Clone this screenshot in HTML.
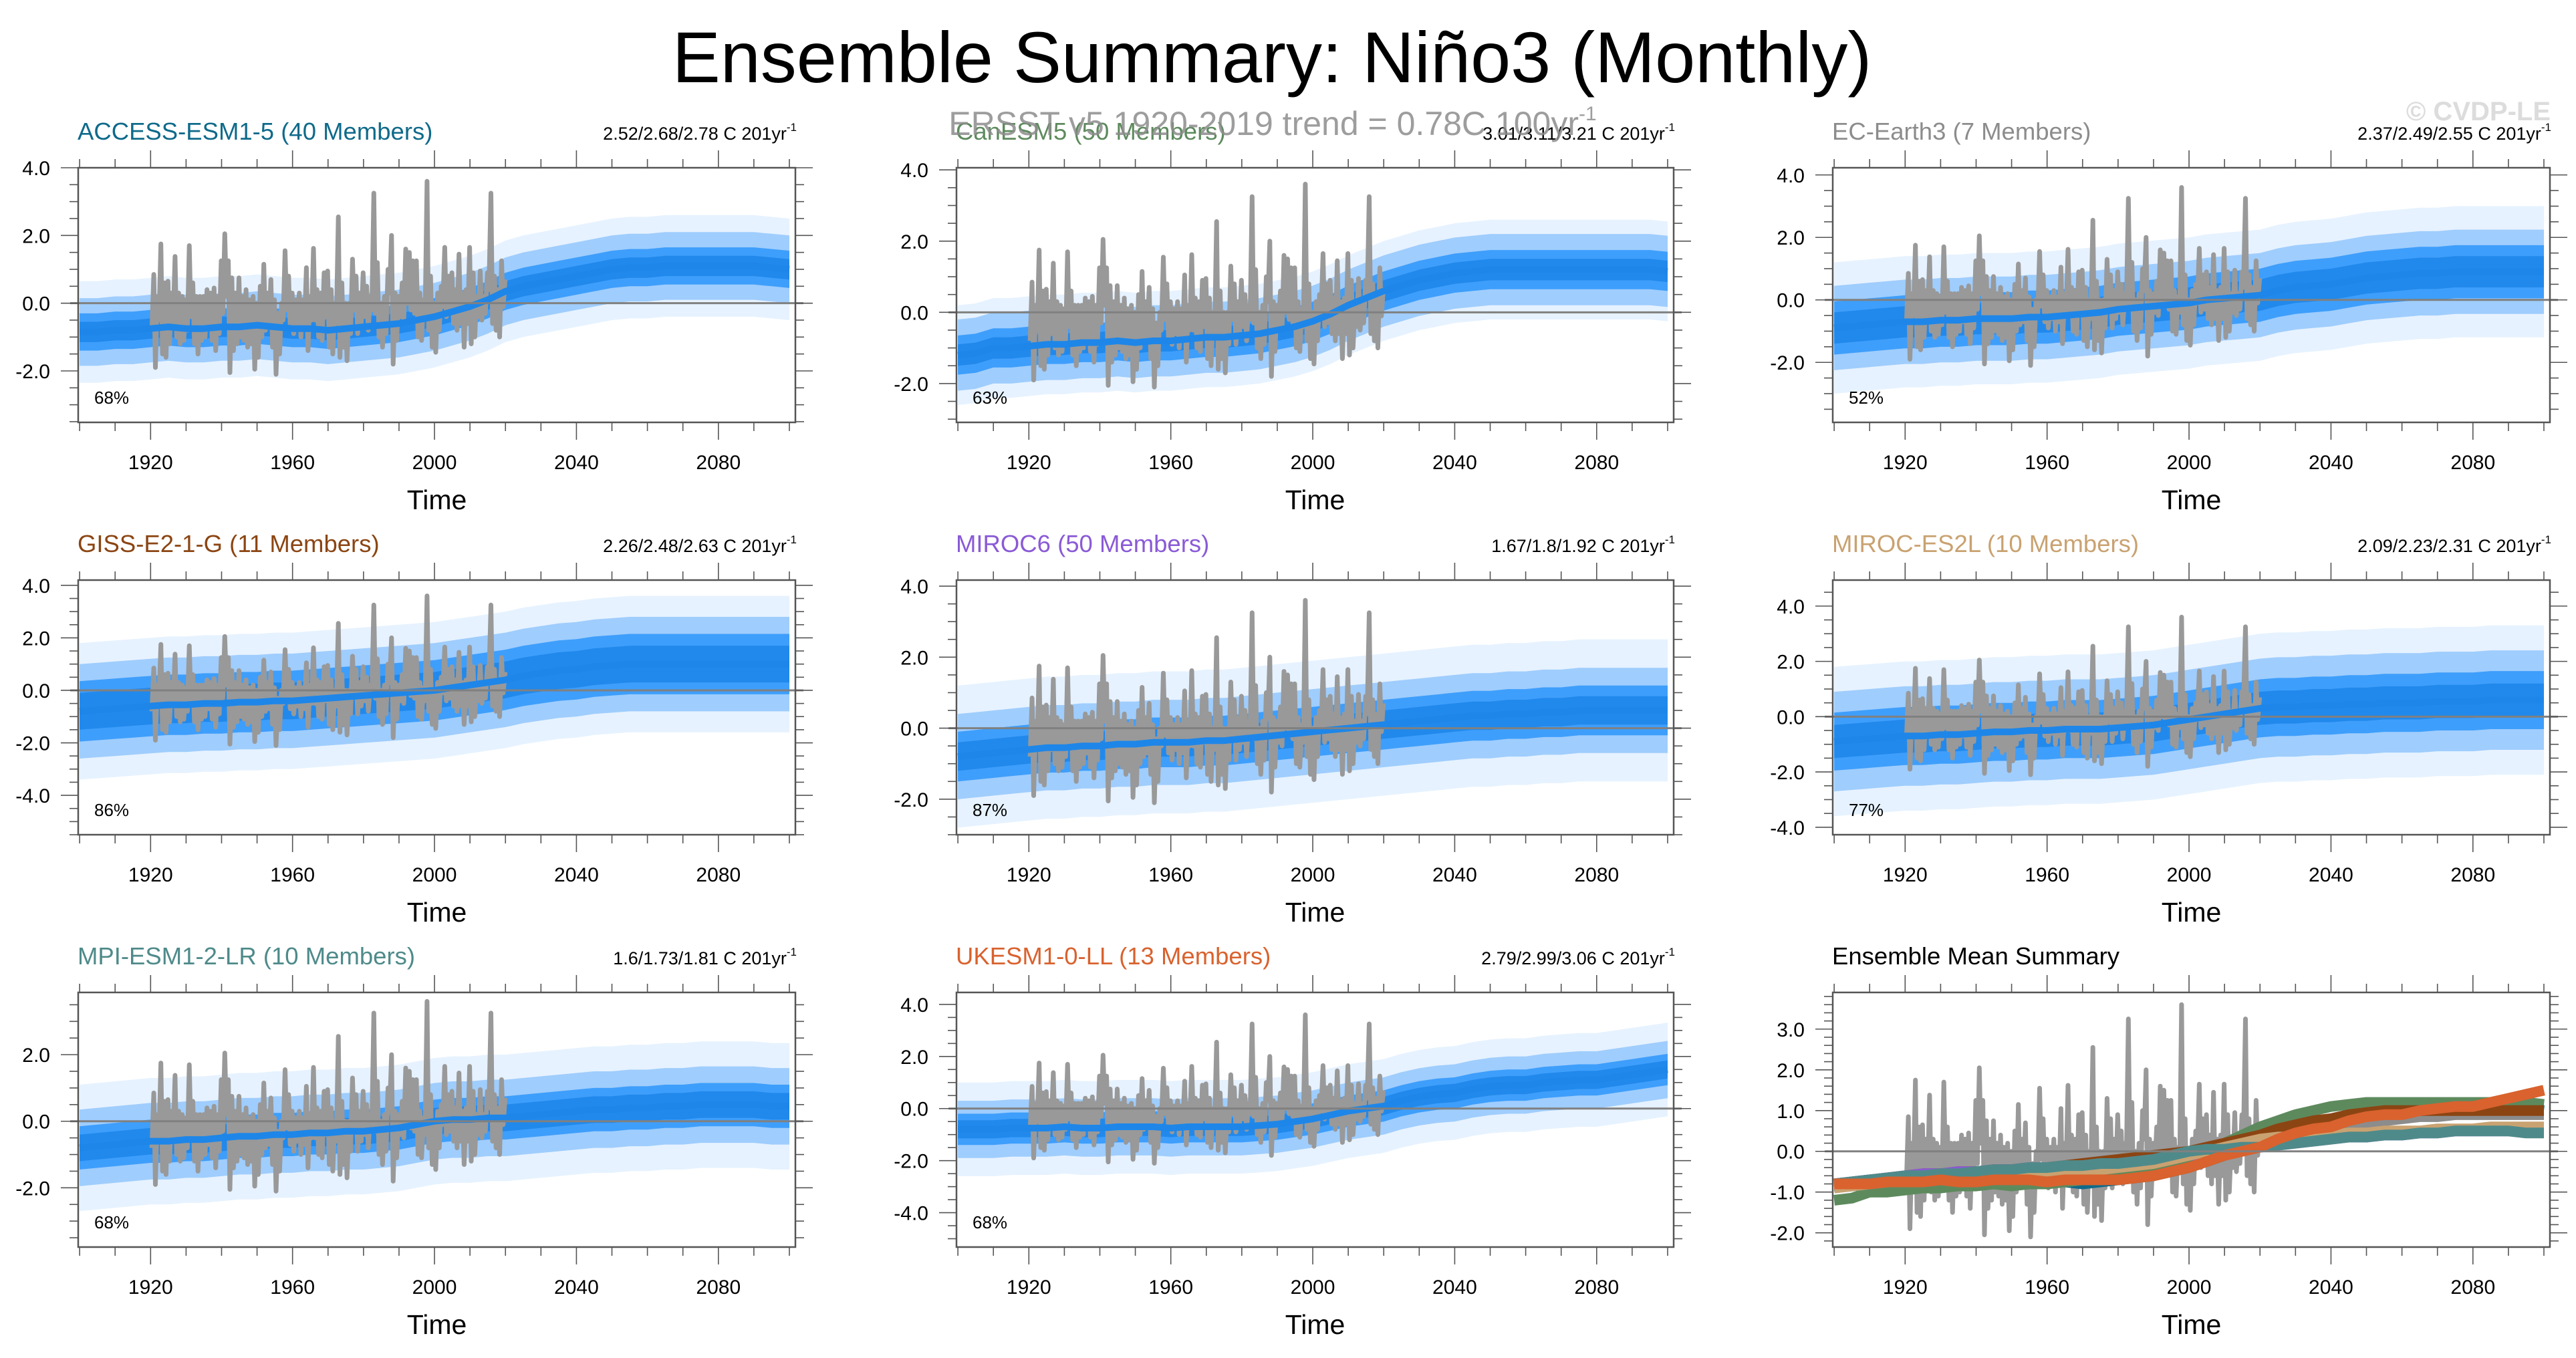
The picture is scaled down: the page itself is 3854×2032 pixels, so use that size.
<!DOCTYPE html>
<html><head><meta charset="utf-8"><title>Ensemble Summary: Niño3 (Monthly)</title>
<style>
html,body{margin:0;padding:0;background:#fff;}
svg{display:block;}
text{font-family:"Liberation Sans",Arial,sans-serif;}
</style></head>
<body>
<svg id="fig" xmlns="http://www.w3.org/2000/svg" width="3854" height="2032" viewBox="0 0 3854 2032">
<rect x="0" y="0" width="3854" height="2032" fill="#fff"/>
<text x="1903" y="123" font-size="108" text-anchor="middle" fill="#000">Ensemble Summary: Niño3 (Monthly)</text>
<text x="3816" y="180" font-size="40" font-weight="bold" text-anchor="end" fill="#dcdcdc">© CVDP-LE</text>
<g id="panels"></g>
<text x="1904" y="202" font-size="50" text-anchor="middle" fill="#8c8c8c" fill-opacity="0.85">ERSST v5 1920-2019 trend = 0.78C 100yr<tspan font-size="30" dy="-22">-1</tspan></text>
</svg>
<script>
// ---------- data ----------
const meanYears = [1900,1905,1910,1915,1920,1925,1930,1935,1940,1945,1950,1955,1960,1965,1970,1975,1980,1985,1990,1995,2000,2005,2010,2015,2020,2025,2030,2035,2040,2045,2050,2055,2060,2065,2070,2075,2080,2085,2090,2095,2100];
const meanACCESS = [-0.85,-0.85,-0.8,-0.8,-0.75,-0.7,-0.75,-0.75,-0.7,-0.7,-0.65,-0.7,-0.75,-0.75,-0.8,-0.75,-0.7,-0.65,-0.6,-0.5,-0.4,-0.25,-0.1,0.1,0.35,0.5,0.6,0.7,0.8,0.9,1.0,1.05,1.05,1.1,1.1,1.1,1.1,1.1,1.1,1.05,1.0];
const meanCanESM = [-1.2,-1.15,-1.0,-1.0,-0.95,-0.9,-0.9,-0.85,-0.85,-0.8,-0.85,-0.8,-0.8,-0.75,-0.7,-0.7,-0.65,-0.6,-0.5,-0.4,-0.25,-0.05,0.2,0.4,0.6,0.75,0.9,1.0,1.1,1.15,1.2,1.2,1.2,1.2,1.2,1.2,1.2,1.2,1.2,1.2,1.15];
const meanECEarth = [-0.9,-0.85,-0.8,-0.75,-0.7,-0.7,-0.65,-0.65,-0.6,-0.6,-0.6,-0.55,-0.55,-0.5,-0.45,-0.4,-0.3,-0.25,-0.2,-0.15,-0.1,0.0,0.05,0.1,0.15,0.3,0.4,0.45,0.5,0.6,0.7,0.75,0.8,0.85,0.85,0.9,0.9,0.9,0.9,0.9,0.9];
const meanGISS = [-0.8,-0.75,-0.7,-0.65,-0.6,-0.55,-0.55,-0.5,-0.5,-0.45,-0.45,-0.4,-0.4,-0.35,-0.3,-0.25,-0.2,-0.15,-0.1,-0.05,0.0,0.1,0.2,0.3,0.4,0.55,0.65,0.75,0.8,0.9,0.95,1.0,1.0,1.0,1.0,1.0,1.0,1.0,1.0,1.0,1.0];
const meanMIROC6 = [-0.8,-0.75,-0.7,-0.65,-0.6,-0.55,-0.55,-0.5,-0.5,-0.45,-0.45,-0.4,-0.4,-0.4,-0.35,-0.35,-0.3,-0.25,-0.2,-0.15,-0.1,-0.05,0.0,0.05,0.1,0.15,0.2,0.25,0.3,0.35,0.35,0.4,0.4,0.45,0.45,0.5,0.5,0.5,0.5,0.5,0.5];
const meanMIROCES2L = [-0.9,-0.85,-0.8,-0.75,-0.7,-0.7,-0.65,-0.65,-0.6,-0.55,-0.55,-0.5,-0.5,-0.45,-0.45,-0.45,-0.4,-0.35,-0.3,-0.2,-0.1,0.0,0.1,0.2,0.3,0.35,0.35,0.4,0.4,0.45,0.45,0.5,0.5,0.5,0.55,0.55,0.55,0.6,0.6,0.6,0.6];
const meanMPI = [-0.8,-0.75,-0.7,-0.65,-0.6,-0.6,-0.55,-0.55,-0.5,-0.45,-0.45,-0.4,-0.4,-0.35,-0.35,-0.3,-0.3,-0.25,-0.2,-0.1,0.0,0.05,0.05,0.1,0.1,0.15,0.2,0.25,0.3,0.35,0.35,0.4,0.4,0.45,0.45,0.5,0.5,0.5,0.5,0.45,0.45];
const meanUKESM = [-0.8,-0.8,-0.8,-0.75,-0.75,-0.75,-0.7,-0.75,-0.75,-0.7,-0.7,-0.7,-0.75,-0.7,-0.7,-0.7,-0.7,-0.65,-0.6,-0.5,-0.4,-0.25,-0.1,0.0,0.1,0.3,0.45,0.55,0.6,0.75,0.85,0.9,0.9,1.0,1.05,1.1,1.1,1.2,1.3,1.4,1.5];
const coreHalf = [0.3,0.3,0.5,0.7,0.4,0.6,0.4,0.35];
const innerHalf = [0.55,0.55,0.85,1.15,0.7,1.05,0.65,0.6];
const outerHalf = [1.0,1.0,1.35,1.8,1.2,1.8,1.15,1.1];
const spikeHalf = [1.5,1.4,2.1,2.6,2.0,2.7,1.9,1.8];
const pctLabels = ["68%","63%","52%","86%","87%","77%","68%","68%"];
const trendLabels = ["2.52/2.68/2.78","3.01/3.11/3.21","2.37/2.49/2.55","2.26/2.48/2.63","1.67/1.8/1.92","2.09/2.23/2.31","1.6/1.73/1.81","2.79/2.99/3.06"];
const modelNames = ["ACCESS-ESM1-5 (40 Members)","CanESM5 (50 Members)","EC-Earth3 (7 Members)","GISS-E2-1-G (11 Members)","MIROC6 (50 Members)","MIROC-ES2L (10 Members)","MPI-ESM1-2-LR (10 Members)","UKESM1-0-LL (13 Members)"];
const obsYears = [];
for (let y = 1920; y <= 2019; y++) obsYears.push(y);
const obsMax = [0.85,0.2,1.75,0.6,0.65,0.3,1.38,0.3,0.2,0.1,1.7,0.6,0.2,0.2,0.2,0.4,0.3,0.45,0.2,1.25,2.05,1.25,0.75,0.3,0.75,0.2,0.4,0.1,0.2,0.0,0.5,1.15,0.3,0.7,0.1,-0.3,0.0,1.55,0.8,0.3,0.1,0.3,0.1,1.05,0.2,1.62,0.4,0.3,0.9,0.95,0.4,0.0,2.55,0.6,0.0,0.0,1.3,0.8,0.3,0.9,0.5,0.2,3.25,1.2,0.0,0.2,1.0,2.0,0.3,0.2,0.6,1.6,1.5,1.25,1.25,0.3,0.1,3.6,0.8,0.0,0.3,0.5,1.65,0.8,0.9,0.4,1.45,0.3,0.4,1.65,0.9,0.2,0.95,0.2,0.9,3.25,0.8,0.4,1.25,0.7];
const obsMin = [-0.8,-1.9,-0.5,-1.5,-1.6,-1.2,-0.6,-1.0,-1.2,-1.1,-0.8,-0.4,-1.2,-1.5,-1.1,-1.0,-0.7,-1.1,-1.4,-0.9,-0.3,0.2,-2.05,-1.4,-1.2,-1.0,-1.1,-1.3,-1.2,-1.95,-1.6,-1.0,-0.8,-0.7,-1.3,-2.1,-1.5,-0.5,-0.2,-0.7,-0.9,-0.6,-1.0,-0.7,-1.4,-0.5,-0.5,-1.0,-1.1,-0.4,-1.3,-1.5,-0.6,-1.6,-1.3,-1.7,-0.9,-0.2,-0.9,-0.6,-0.4,-0.8,-0.2,-0.3,-1.0,-1.3,-0.9,0.3,-1.8,-1.1,-0.4,-0.5,0.0,-0.2,-0.3,-1.0,-1.1,-0.4,-0.8,-1.3,-1.45,-0.8,-0.1,-0.4,-0.3,-0.6,-0.8,-0.6,-1.3,-0.6,-1.2,-1.0,-0.4,-0.5,-0.3,0.4,-0.6,-0.8,-1.0,-0.1];
const xTickLabels = [1920,1960,2000,2040,2080];

// ---------- layout ----------
const allMeans = [meanACCESS,meanCanESM,meanECEarth,meanGISS,meanMIROC6,meanMIROCES2L,meanMPI,meanUKESM];
const titleColors = ["#0f6a8a","#5d8a5d","#8c8c8c","#8b4513","#8a5ad6","#c9a271","#4f8a8a","#d9622e"];
const colL = [117,1431,2742], plotW = 1073;
const rowT = [251,868,1485], plotH = 381;
const yRanges = [[-3.52,4.0],[-3.09,4.06],[-3.92,4.23],[-5.5,4.2],[-3.0,4.17],[-4.27,4.94],[-3.78,3.87],[-5.32,4.46]];
const yLabelSets = [[4,2,0,-2],[4,2,0,-2],[4,2,0,-2],[4,2,0,-2,-4],[4,2,0,-2],[4,2,0,-2,-4],[2,0,-2],[4,2,0,-2,-4]];
const X0 = 1899.6, X1 = 2101.7;
const NS = "http://www.w3.org/2000/svg";
const root = document.getElementById('panels');
function mk(tag, attrs, parent){const e=document.createElementNS(NS,tag);for(const k in attrs)e.setAttribute(k,attrs[k]);(parent||root).appendChild(e);return e;}

function drawAxes(g, L, T, yS, yMin, yMax, labels, minorStep, majorStep, decimals){
  const xS = yr => L + (yr - X0) / (X1 - X0) * plotW;
  const zl = mk('line',{x1:L-12,x2:L+plotW+12,y1:yS(0),y2:yS(0),stroke:'#808080','stroke-width':3},g);
  
  
  const fr = mk('rect',{x:L,y:T,width:plotW,height:plotH,fill:'none',stroke:'#555','stroke-width':2.5},g);
  
  
  for (let yr = 1900; yr <= 2100; yr += 10){
    const major = (yr - 1920) % 40 === 0;
    const x = xS(yr);
    mk('line',{x1:x,x2:x,y1:T+plotH,y2:T+plotH+(major?26:13),stroke:'#555','stroke-width':1.6},g);
    mk('line',{x1:x,x2:x,y1:T,y2:T-(major?26:13),stroke:'#555','stroke-width':1.6},g);
  }
  xTickLabels.forEach(v=>{
    const t = mk('text',{x:xS(v),y:T+plotH+70,'font-size':30,'text-anchor':'middle',fill:'#000'},g);
    t.textContent = v;
    
    
  });
  const start = Math.ceil(yMin / minorStep - 1e-6);
  for (let k = start; k * minorStep <= yMax + 1e-6; k++){
    const v = k * minorStep;
    const major = Math.abs(v / majorStep - Math.round(v / majorStep)) < 1e-6;
    const y = yS(v);
    mk('line',{x1:L,x2:L-(major?26:13),y1:y,y2:y,stroke:'#555','stroke-width':1.6},g);
    mk('line',{x1:L+plotW,x2:L+plotW+(major?26:13),y1:y,y2:y,stroke:'#555','stroke-width':1.6},g);
  }
  labels.forEach(v=>{
    const t = mk('text',{x:L-42,y:yS(v)+11,'font-size':30,'text-anchor':'end',fill:'#000'},g);
    t.textContent = v.toFixed(decimals);
    
    
  });
  const tl = mk('text',{x:L+plotW/2,y:T+plotH+130,'font-size':41,'text-anchor':'middle',fill:'#000'},g);
  tl.textContent = 'Time';
  
  
}

function obsPath(xS, yS){
  let d = '';
  obsYears.forEach((yr,i)=>{
    d += (i===0?'M':'L') + xS(yr+0.35).toFixed(1) + ',' + yS(obsMin[i]).toFixed(1);
    d += 'L' + xS(yr+0.9).toFixed(1) + ',' + yS(obsMax[i]).toFixed(1);
  });
  return d;
}
function bandPath(xS, yS, mean, half){
  let d = '';
  meanYears.forEach((yr,i)=>{ d += (i===0?'M':'L') + xS(yr).toFixed(1)+','+yS(mean[i]+half).toFixed(1); });
  for (let i = meanYears.length-1; i >= 0; i--) d += 'L' + xS(meanYears[i]).toFixed(1)+','+yS(mean[i]-half).toFixed(1);
  return d + 'Z';
}
function linePath(xS, yS, vals){
  return meanYears.map((yr,i)=>(i===0?'M':'L')+xS(yr).toFixed(1)+','+yS(vals[i]).toFixed(1)).join('');
}

for (let p = 0; p < 8; p++){
  const L = colL[p % 3], T = rowT[Math.floor(p / 3)];
  const [yMin, yMax] = yRanges[p];
  const yS = v => T + plotH - (v - yMin) / (yMax - yMin) * plotH;
  const xS = v => L + (v - X0) / (X1 - X0) * plotW;
  const g = mk('g',{});
  
  
  const cid = 'clip' + p;
  const cp = mk('clipPath',{id:cid},g);
  mk('rect',{x:L,y:T,width:plotW,height:plotH},cp);
  const dg = mk('g',{'clip-path':'url(#'+cid+')'},g);
  const s1 = mk('path',{d:bandPath(xS,yS,allMeans[p],spikeHalf[p]),fill:'#e6f2ff'},dg);
  
  
  const s2 = mk('path',{d:bandPath(xS,yS,allMeans[p],outerHalf[p]),fill:'#9fcdfd'},dg);
  
  
  const s3 = mk('path',{d:bandPath(xS,yS,allMeans[p],innerHalf[p]),fill:'#3e9efb'},dg);
  
  
  const s4 = mk('path',{d:bandPath(xS,yS,allMeans[p],coreHalf[p]),fill:'#2189ec'},dg);
  
  
  const ob = mk('path',{d:obsPath(xS,yS),fill:'none',stroke:'#999','stroke-width':7,'stroke-linejoin':'round'},dg);
  
  
  const ml = mk('path',{d:linePath(xS,yS,allMeans[p]),fill:'none',stroke:'#1e86e8','stroke-width':10,'stroke-linejoin':'round'},dg);
  
  
  drawAxes(g, L, T, yS, yMin, yMax, yLabelSets[p], 0.5, 2, 1);
  const tt = mk('text',{x:L-1,y:T-42,'font-size':36.5,fill:titleColors[p]},g);
  tt.textContent = modelNames[p];
  
  
  const tr = mk('text',{x:L+plotW+2,y:T-42,'font-size':27,'text-anchor':'end',fill:'#000'},g);
  tr.textContent = trendLabels[p] + ' C 201yr';
  const sup = mk('tspan',{'font-size':17,dy:-13},tr);
  sup.textContent = '-1';
  
  
  const pc = mk('text',{x:L+24,y:T+plotH-28,'font-size':26,fill:'#000'},g);
  pc.textContent = pctLabels[p];
  
  
}

(function(){
  const L = colL[2], T = rowT[2], yMin = -2.35, yMax = 3.9;
  const yS = v => T + plotH - (v - yMin) / (yMax - yMin) * plotH;
  const xS = v => L + (v - X0) / (X1 - X0) * plotW;
  const g = mk('g',{});
  
  
  const cp = mk('clipPath',{id:'clipS'},g);
  mk('rect',{x:L,y:T,width:plotW,height:plotH},cp);
  const dg = mk('g',{'clip-path':'url(#clipS)'},g);
  const ob = mk('path',{d:obsPath(xS,yS),fill:'none',stroke:'#999','stroke-width':7,'stroke-linejoin':'round'},dg);
  
  
  allMeans.forEach((m,i)=>{
    const ln = mk('path',{d:linePath(xS,yS,m),fill:'none',stroke:titleColors[i],'stroke-width':16,'stroke-linejoin':'round'},dg);
    
    
  });
  drawAxes(g, L, T, yS, yMin, yMax, [3,2,1,0,-1,-2], 0.2, 1, 1);
  const tt = mk('text',{x:L-1,y:T-42,'font-size':36.5,fill:'#000'},g);
  tt.textContent = 'Ensemble Mean Summary';
  
  
})();
</script>
</body></html>
